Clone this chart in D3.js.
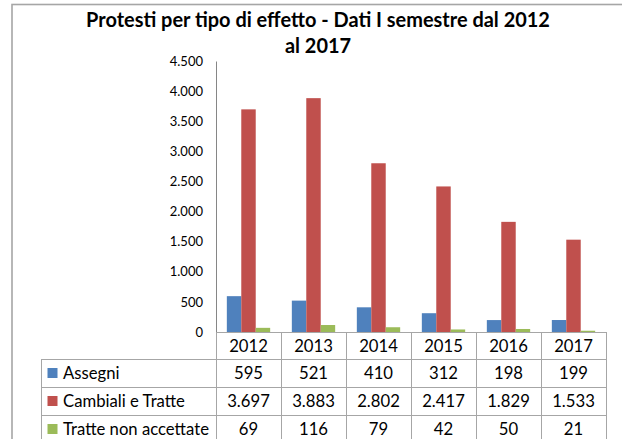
<!DOCTYPE html>
<html lang="it">
<head>
    <meta charset="utf-8">
    <title>Protesti per tipo di effetto</title>
    <script type="text/javascript" src="https://cdnjs.cloudflare.com/ajax/libs/d3/7.8.5/d3.min.js"></script>
    <style>
      body { margin: 0; background: #fff; }
      text { font-family: Lato, "Open Sans", sans-serif; fill: #000; }
    </style>
</head>
<body>
    <script type="text/javascript">
      //data
      var years = ["2012", "2013", "2014", "2015", "2016", "2017"];
      var seriesNames = ["Assegni", "Cambiali e Tratte", "Tratte non accettate"];
      var assegni = [595, 521, 410, 312, 198, 199];
      var cambiali = [3697, 3883, 2802, 2417, 1829, 1533];
      var tratteNonAccettate = [69, 116, 79, 42, 50, 21];
      var yTicks = [0, 500, 1000, 1500, 2000, 2500, 3000, 3500, 4000, 4500];
      var titleLines = ["Protesti per tipo di effetto - Dati I semestre dal 2012", "al 2017"];

      var seriesValues = [assegni, cambiali, tratteNonAccettate];
      var colors = ["#4F81BD", "#C0504D", "#9BBB59"];

      //dimensions
      var width = 622, height = 439,
          plotLeft = 216, plotRight = 606,
          plotTop = 61, plotBottom = 332,
          tableLeft = 41, rowHeight = 28;

      //italian number format
      var it = d3.formatLocale({decimal: ",", thousands: ".", grouping: [3], currency: ["€", ""]});
      var fmt = it.format(",");

      var svg = d3.select("body")
                  .append("svg")
                  .attr("width", width)
                  .attr("height", height);

      //chart area border
      svg.append("rect")
         .attr("x", 12)
         .attr("y", 4.5)
         .attr("width", 700)
         .attr("height", 600)
         .attr("fill", "none")
         .attr("stroke", "#a6a6a6")
         .attr("stroke-width", 1.6);

      //title
      var title = svg.append("text")
                     .attr("text-anchor", "middle")
                     .style("font-weight", "bold")
                     .style("font-size", "18px");
      title.selectAll("tspan")
           .data(titleLines)
           .enter().append("tspan")
           .attr("x", 318)
           .attr("y", function(d, i) { return 27 + i * 26; })
           .text(function(d) { return d; });
      //fit first line to its width in the picture
      var w0 = title.select("tspan").node().getComputedTextLength();
      title.style("font-size", (18 * 464 / w0) + "px");

      //table font size, fitted so the longest label width matches
      var probe = svg.append("text").style("font-size", "14px").text("Cambiali e Tratte");
      var tableFont = 14 * 122 / probe.node().getComputedTextLength();
      probe.remove();

      //scales
      var yScale = d3.scaleLinear()
                     .domain([0, 4500])
                     .range([plotBottom, plotTop]);

      var xScale = d3.scaleBand()
                     .domain(years)
                     .range([plotLeft, plotRight]);

      var bw = xScale.bandwidth();
      var xSub = d3.scaleBand()
                   .domain(seriesNames)
                   .range([bw * 0.75 / 4.5, bw - bw * 0.75 / 4.5]);

      //y axis
      var yAxis = d3.axisLeft(yScale)
                    .tickValues(yTicks)
                    .tickSize(0)
                    .tickPadding(13)
                    .tickFormat(fmt);

      var gy = svg.append("g")
                  .attr("transform", "translate(" + plotLeft + ",0)")
                  .call(yAxis);
      gy.select(".domain").attr("stroke", "#868686");
      gy.selectAll("text")
        .style("font-family", "Lato, sans-serif")
        .style("font-size", "13px")
        .attr("fill", "#000");

      //bars
      seriesNames.forEach(function(name, s) {
        svg.append("g")
           .selectAll("rect")
           .data(seriesValues[s])
           .enter().append("rect")
           .attr("x", function(d, i) { return xScale(years[i]) + xSub(name); })
           .attr("y", function(d) { return yScale(d); })
           .attr("width", xSub.bandwidth())
           .attr("height", function(d) { return yScale(0) - yScale(d); })
           .attr("fill", colors[s]);
      });

      //data table
      var table = svg.append("g")
                     .attr("stroke", "#a6a6a6")
                     .attr("stroke-width", 1)
                     .attr("shape-rendering", "crispEdges");
      var tableBottom = plotBottom + rowHeight * 4;

      //horizontal lines
      table.append("line")
           .attr("x1", plotLeft).attr("x2", plotRight)
           .attr("y1", plotBottom).attr("y2", plotBottom);
      for (var r = 1; r <= 3; r++) {
        table.append("line")
             .attr("x1", tableLeft).attr("x2", plotRight)
             .attr("y1", plotBottom + r * rowHeight - 1).attr("y2", plotBottom + r * rowHeight - 1);
      }
      //vertical lines
      table.append("line")
           .attr("x1", tableLeft).attr("x2", tableLeft)
           .attr("y1", plotBottom + rowHeight - 1).attr("y2", tableBottom);
      years.forEach(function(y) {
        table.append("line")
             .attr("x1", xScale(y)).attr("x2", xScale(y))
             .attr("y1", plotBottom).attr("y2", tableBottom);
      });
      table.append("line")
           .attr("x1", plotRight).attr("x2", plotRight)
           .attr("y1", plotBottom).attr("y2", tableBottom);

      //header row
      svg.append("g")
         .selectAll("text")
         .data(years)
         .enter().append("text")
         .attr("x", function(d) { return xScale(d) + bw / 2; })
         .attr("y", plotBottom + 19.5)
         .attr("text-anchor", "middle")
         .style("font-size", tableFont + "px")
         .text(function(d) { return d; });

      //series rows
      seriesNames.forEach(function(name, s) {
        var rowY = plotBottom + (s + 1) * rowHeight - 1;
        var row = svg.append("g");
        row.append("rect")
           .attr("x", 47.5)
           .attr("y", rowY + 9)
           .attr("width", 10)
           .attr("height", 10)
           .attr("fill", colors[s]);
        row.append("text")
           .attr("x", 63)
           .attr("y", rowY + 19.5)
           .style("font-size", tableFont + "px")
           .text(name);
        row.selectAll("text.val")
           .data(seriesValues[s])
           .enter().append("text")
           .attr("class", "val")
           .attr("x", function(d, i) { return xScale(years[i]) + bw / 2; })
           .attr("y", rowY + 19.5)
           .attr("text-anchor", "middle")
           .style("font-size", tableFont + "px")
           .text(function(d) { return fmt(d); });
      });
    </script>
</body>
</html>
